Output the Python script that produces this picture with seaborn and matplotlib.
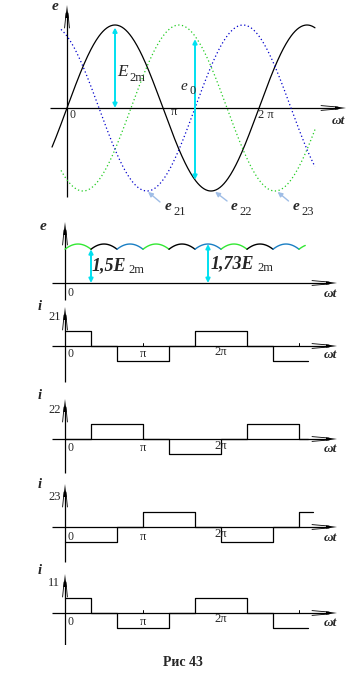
import numpy as np
import pandas as pd
import matplotlib
matplotlib.use("Agg")
import matplotlib.pyplot as plt
import seaborn as sns

sns.set_theme(style="white")
plt.rcParams['font.family'] = ['Liberation Serif', 'DejaVu Serif']

PI = np.pi

# ---------------- data ----------------
# three-phase EMFs e = amp * sin(wt + shift)   (wt ranges in units of pi)
phase_names = ["e_black", "e_green", "e_blue"]
phase_amp = [1.0, 1.0, 1.0]
phase_shift = [0.0, -2 * PI / 3, 2 * PI / 3]
phase_start = [-0.156, -0.0625, -0.0625]   # in pi
phase_end = [2.583, 2.583, 2.583]          # in pi
phase_colors = ["#000000", "#22cc22", "#0000cc"]
phase_styles = ["-", (0, (1, 2)), (0, (1, 2))]

# rectified bridge voltage (1.5 .. 1.73 E2m), 6 pulses per period
ripple_offset = -PI / 6
ripple_start, ripple_end = 0.0, 3.08        # in pi
ripple_seg_colors = ["#33e833", "#000000", "#1a7fc4"]

# phase currents: pulse edges (in pi) and levels between them
i21_edges = [0, 1/3, 2/3, 4/3, 5/3, 7/3, 8/3, 3.12]
i21_levels = [1, 0, -1, 0, 1, 0, -1]
i22_edges = [0, 1/3, 1, 4/3, 2, 7/3, 3, 3.12]
i22_levels = [0, 1, 0, -1, 0, 1, 0]
i23_edges = [0, 2/3, 1, 5/3, 2, 8/3, 3, 3.18]
i23_levels = [-1, 0, 1, 0, -1, 0, 1]
i11_edges = [0, 1/3, 2/3, 4/3, 5/3, 7/3, 8/3, 3.12]
i11_levels = [1, 0, -1, 0, 1, 0, -1]

# ---------------- figure ----------------
W, H = 350, 678
fig = plt.figure(figsize=(W / 100, H / 100), dpi=100)
fig.patch.set_facecolor("white")


class Panel:
    def __init__(self, top, bottom, x0, y0, sx, sy):
        self.x0, self.y0, self.sx, self.sy = x0, y0, sx, sy
        self.ax = fig.add_axes([0, 1 - bottom / H, 1, (bottom - top) / H])
        self.ax.set_xlim(self.xd(0), self.xd(W))
        self.ax.set_ylim(self.yd(bottom), self.yd(top))
        self.ax.axis("off")

    def xd(self, px):
        return (px - self.x0) / self.sx

    def yd(self, py):
        return (self.y0 - py) / self.sy


def draw_axes(p, xl, xr, yt, yb):
    ax = p.ax
    kw = dict(color="black", lw=0.9, solid_capstyle="butt")
    ax.plot([p.xd(xl), p.xd(xr - 8)], [0, 0], **kw)
    for d in (-2.4, 2.4):
        ax.plot([p.xd(xr - 25), p.xd(xr - 8)], [p.yd(p.y0 + d), p.yd(p.y0 + d * 0.4)],
                color="black", lw=0.6)
    ax.fill([p.xd(xr - 11), p.xd(xr), p.xd(xr - 11)],
            [p.yd(p.y0 - 1.6), 0, p.yd(p.y0 + 1.6)], color="black", lw=0)
    ax.plot([0, 0], [p.yd(yb), p.yd(yt + 8)], **kw)
    for d in (-2.4, 2.4):
        ax.plot([p.xd(p.x0 + d), p.xd(p.x0 + d * 0.4)], [p.yd(yt + 23), p.yd(yt + 8)],
                color="black", lw=0.6)
    ax.fill([p.xd(p.x0 - 1.6), 0, p.xd(p.x0 + 1.6)],
            [p.yd(yt + 13), p.yd(yt), p.yd(yt + 13)], color="black", lw=0)


def ftext(px, py, s, size=9, ha="left", va="center", **kw):
    fig.text(px / W, 1 - py / H, s, fontsize=size, ha=ha, va=va, **kw)


def sub_label(px, py, main, sub, msize=10, ssize=8.5, dx=8, dy=5, mweight="bold"):
    ftext(px, py, main, size=msize, style="italic", weight=mweight)
    ftext(px + dx, py + dy, sub, size=ssize)


# ---------------- panel 1: three-phase EMFs ----------------
p1 = Panel(0, 218, 67, 108, 96 / PI, 83)
draw_axes(p1, 50, 346, 5, 197)
for name, amp, sh, a, b, c, ls in zip(phase_names, phase_amp, phase_shift,
                                      phase_start, phase_end, phase_colors, phase_styles):
    x = np.linspace(a * PI, b * PI, 400)
    df = pd.DataFrame({"wt": x, "e": amp * np.sin(x + sh)})
    sns.lineplot(data=df, x="wt", y="e", ax=p1.ax, color=c, lw=0.9,
                 linestyle=ls, estimator=None, sort=False)

cyan = "#00e0f0"
arr = dict(arrowstyle="<|-|>", color=cyan, lw=1.4, mutation_scale=6, shrinkA=0, shrinkB=0)
p1.ax.annotate("", xy=(PI / 2, 0.0), xytext=(PI / 2, 0.97), arrowprops=arr)
p1.ax.annotate("", xy=(4 * PI / 3, -0.866), xytext=(4 * PI / 3, 0.83), arrowprops=arr)

lb = dict(arrowstyle="-|>", color="#9fbde6", lw=1.0, mutation_scale=7, shrinkA=0, shrinkB=1)
for mx, tail in [(5 * PI / 6, (13, -11)), (3 * PI / 2 + 0.1, (13, -10)), (13 * PI / 6 + 0.05, (12, -10))]:
    p1.ax.annotate("", xy=(mx, -1.0), xytext=tail, textcoords="offset pixels", arrowprops=lb)

ftext(55, 7, "e", size=11, ha="center", style="italic", weight="bold")
ftext(69, 115, "0", size=8.5)
ftext(174, 112, "π", size=9, ha="center")
ftext(266, 115, "2 π", size=9, ha="center")
ftext(338, 121, "ωt", size=9.5, ha="center", style="italic", weight="bold")
sub_label(117, 72, "E", "2m", msize=12.5, ssize=9, dx=12, dy=6, mweight="normal")
sub_label(181, 86, "e", "0", msize=11, ssize=9, dx=8, dy=5, mweight="normal")
sub_label(165, 207, "e", "21", msize=11, ssize=9, dx=8, dy=5)
sub_label(231, 207, "e", "22", msize=11, ssize=9, dx=8, dy=5)
sub_label(293, 207, "e", "23", msize=11, ssize=9, dx=8, dy=5)

# ---------------- panel 2: rectified voltage ----------------
p2 = Panel(218, 305, 65, 283, 78 / PI, 22.5)
draw_axes(p2, 52, 337, 222, 300)
edges = np.arange(ripple_start, ripple_end + 1e-9, 1 / 3)
edges = list(edges) + ([ripple_end] if edges[-1] < ripple_end - 1e-6 else [])
for k in range(len(edges) - 1):
    x = np.linspace(edges[k] * PI, edges[k + 1] * PI, 40)
    ph = np.array([amp * np.sin(x + sh + ripple_offset) for amp, sh in zip(phase_amp, phase_shift)])
    df = pd.DataFrame({"wt": x, "e": ph.max(axis=0) - ph.min(axis=0)})
    sns.lineplot(data=df, x="wt", y="e", ax=p2.ax, color=ripple_seg_colors[k % 3],
                 lw=1.0, estimator=None, sort=False)
p2.ax.annotate("", xy=(PI / 3, 0.0), xytext=(PI / 3, 1.5), arrowprops=arr)
p2.ax.annotate("", xy=(11 * PI / 6, 0.0), xytext=(11 * PI / 6, 1.732), arrowprops=arr)
ftext(43, 227, "e", size=11, ha="center", style="italic", weight="bold")
ftext(68, 293, "0", size=8.5)
ftext(330, 294, "ωt", size=9.5, ha="center", style="italic", weight="bold")
ftext(92, 266, "1,5E", size=13, style="italic", weight="bold")
ftext(128, 270, "2m", size=9)
ftext(211, 264, "1,73E", size=13, style="italic", weight="bold")
ftext(257, 268, "2m", size=9)

# ---------------- current panels ----------------
cur_specs = [
    ("21", i21_edges, i21_levels, 305, 388, 346, 307, 382, 306, 317, 354, 352),
    ("22", i22_edges, i22_levels, 388, 477, 439, 399, 473, 395, 410, 448, 446),
    ("23", i23_edges, i23_levels, 477, 566, 527, 484, 562, 484, 497, 537, 534),
    ("11", i11_edges, i11_levels, 566, 645, 613, 574, 648, 571, 583, 622, 619),
]
for name, ed, lv, top, bot, y0, yt, yb, ly, sy_, l0y, l2y in cur_specs:
    p = Panel(top, bot, 65, y0, 78 / PI, 15)
    draw_axes(p, 52, 337, yt, yb)
    xs, ys = [], []
    for k, v in enumerate(lv):
        xs += [ed[k] * PI, ed[k + 1] * PI]
        ys += [v, v]
    df = pd.DataFrame({"wt": xs, "i": ys})
    sns.lineplot(data=df, x="wt", y="i", ax=p.ax, color="black", lw=0.9,
                 estimator=None, sort=False)
    if name in ("21", "11"):
        for t in (1, 3):
            p.ax.plot([t * PI, t * PI], [0, p.yd(y0 - 3)], color="black", lw=0.7)
    ftext(40, ly, "i", size=10.5, ha="center", style="italic", weight="bold")
    ftext(48, sy_, name, size=9)
    ftext(68, l0y, "0", size=8.5)
    ftext(143, l0y, "π", size=9, ha="center")
    ftext(221, l2y, "2π", size=9, ha="center")
    ftext(330, l0y + 1, "ωt", size=9.5, ha="center", style="italic", weight="bold")

ftext(183, 663, "Рис 43", size=10, ha="center", weight="bold")

fig.savefig("out.png", dpi=100, facecolor="white")
